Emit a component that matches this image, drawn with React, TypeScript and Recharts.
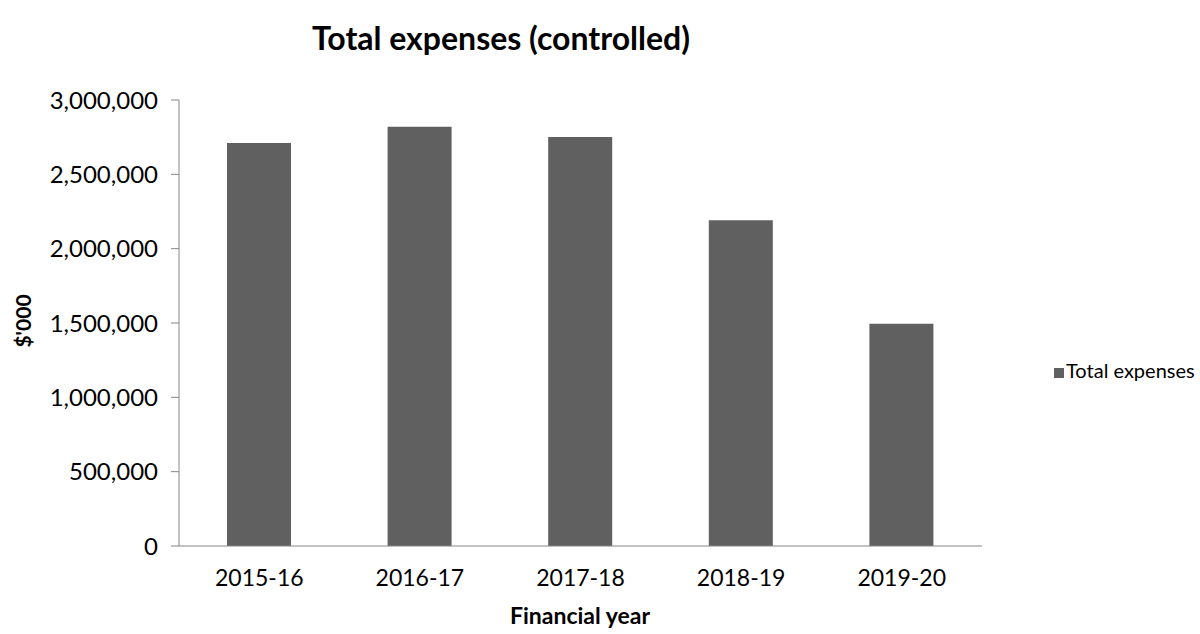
import { BarChart, Bar, XAxis, YAxis, Legend } from 'recharts'

const years = ['2015-16', '2016-17', '2017-18', '2018-19', '2019-20']
const totalExpenses = [2711000, 2820000, 2751000, 2191000, 1495000]
const yTicks = [0, 500000, 1000000, 1500000, 2000000, 2500000, 3000000]

const data = years.map((y, i) => ({ year: y, total: totalExpenses[i] }))

const font = 'Lato, "Open Sans", sans-serif'
const fmt = (v: number) => v.toLocaleString('en-US')

export default function App(){
  return (
    <div style={{position:'fixed', left:0, top:0, width:1200, height:634, background:'#fff', fontFamily:font, overflow:'hidden'}}>
      <div style={{position:'absolute', top:19, left:0, width:1002, textAlign:'center', fontSize:32, fontWeight:700, color:'#000', lineHeight:1.2}}>
        Total expenses (controlled)
      </div>
      <div style={{position:'absolute', left:22, top:321, transform:'translate(-50%,-50%) rotate(-90deg)', fontSize:21, fontWeight:700, whiteSpace:'nowrap'}}>
        $'000
      </div>
      <div style={{position:'absolute', left:580, top:615, transform:'translate(-50%,-50%)', fontSize:23, fontWeight:700, whiteSpace:'nowrap'}}>
        Financial year
      </div>
      <BarChart width={1200} height={634} data={data} margin={{ top: 100, right: 218, bottom: 58, left: 0 }} barCategoryGap="30%">
        <XAxis dataKey="year" tickLine={false} stroke="#868686" tickMargin={18}
          tick={{ fill:'#000', fontSize:23, fontFamily:font }} />
        <YAxis width={179} domain={[0, 3000000]} ticks={yTicks} tickFormatter={fmt} stroke="#868686"
          tickSize={8} tickMargin={13} interval={0}
          tick={{ fill:'#000', fontSize:24, fontFamily:font }} />
        <Legend layout="vertical" align="center" verticalAlign="middle" iconType="square" iconSize={10}
          wrapperStyle={{ position:'absolute', left:1054, top:356, width:144, fontSize:20, fontFamily:font, lineHeight:'28px', whiteSpace:'nowrap', textAlign:'left' }}
          formatter={(v)=> <span style={{color:'#000', marginLeft:-2, whiteSpace:'nowrap'}}>{v}</span>} />
        <Bar dataKey="total" name="Total expenses" fill="#606060" barSize={64} isAnimationActive={false} />
      </BarChart>
    </div>
  )
}
